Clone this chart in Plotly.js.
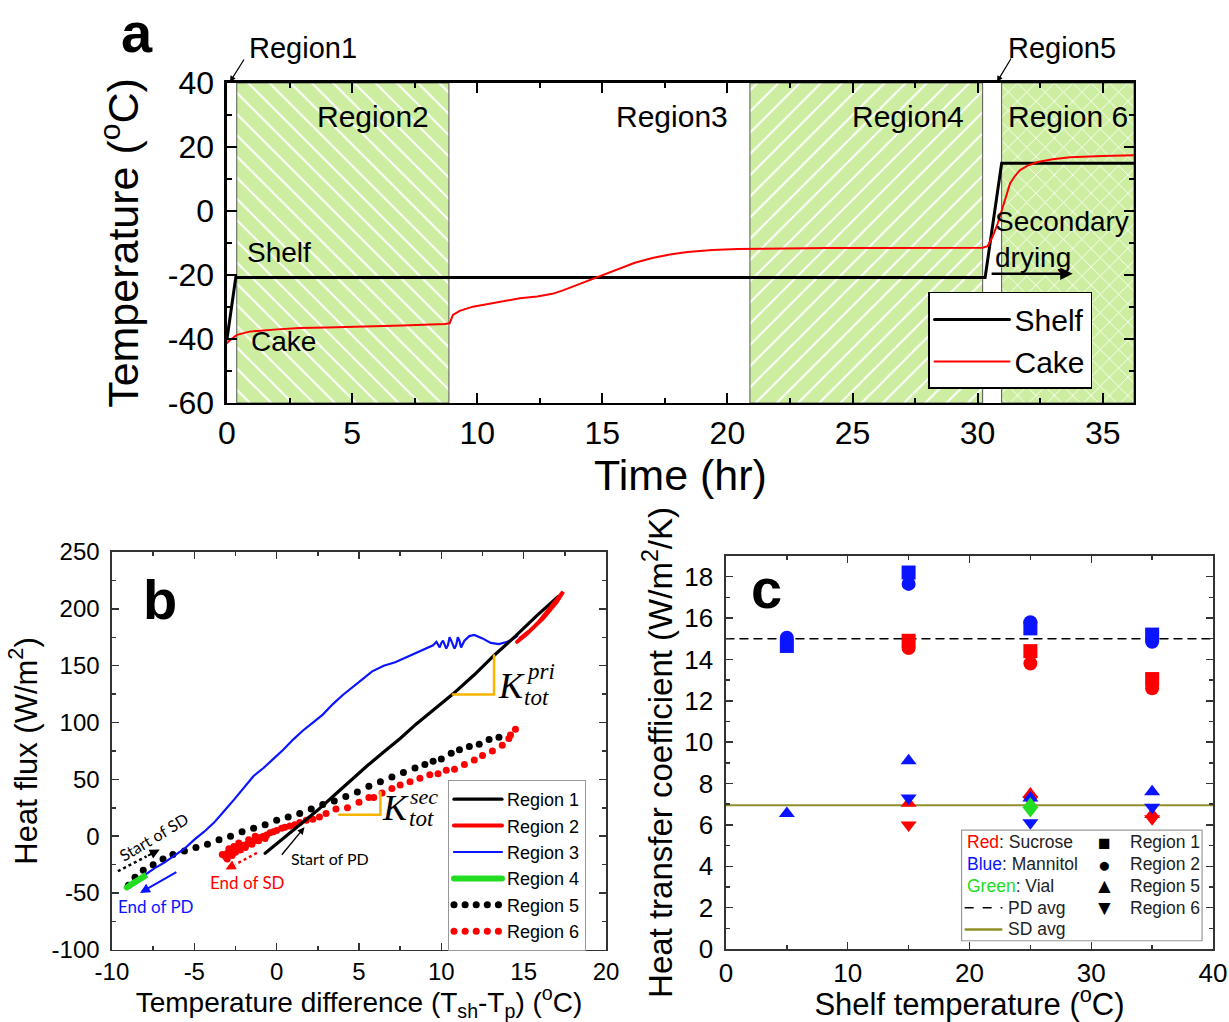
<!DOCTYPE html>
<html>
<head>
<meta charset="utf-8">
<script src="https://cdn.plot.ly/plotly-3.0.1.min.js"></script>
<style>
  html, body { margin: 0; padding: 0; background: #fff; }
  #fig { width: 1229px; height: 1022px; }
  .js-line { stroke-linecap: round; }
</style>
</head>
<body>
<div id="fig"></div>
<script>
// ---------- (a) temperature history ----------
const timeRange = [0, 36.25];
const tempRange = [-60, 40];
const tempTicks = [-60, -40, -20, 0, 20, 40];
const tempTickText = ['-60', '-40', '-20', '0', '20', '40'];
const shelfTime = [0, 0.35, 30.3, 30.96, 36.25];
const shelfTemp = [-40, -20.8, -20.8, 14.9, 14.9];
const cakeTime = [0, 0.15, 0.4, 0.9, 2, 2.9, 4, 5.5, 7, 8.7, 8.9, 9.03, 9.3, 9.83, 10.9, 11.7,
  12.4, 13.0, 13.4, 13.8, 14.3, 14.8, 15.2, 15.7, 16.3, 17.0, 17.7, 18.4, 19.4, 20.4, 22, 24,
  26, 28, 30.2, 30.4, 30.6, 30.8, 31.0, 31.15, 31.3, 31.5, 31.7, 32.0, 32.4, 33.0, 33.7, 35, 36.25];
const cakeTemp = [-41.3, -40.2, -38.7, -37.7, -37.0, -36.6, -36.4, -36.2, -35.8, -35.3, -35.1, -32.5,
  -31.2, -29.9, -28.3, -27.3, -26.7, -25.9, -24.9, -23.7, -22.2, -20.6, -19.3, -17.8, -16.2, -14.7,
  -13.6, -12.8, -12.2, -11.9, -11.7, -11.6, -11.6, -11.5, -11.5, -11.0, -8.0, -4.0, 1.2, 5.5, 8.7,
  11.0, 12.8, 14.2, 15.3, 16.2, 16.8, 17.2, 17.4];
const region2Span = [0.39, 8.87];
const region4Span = [20.9, 30.2];
const region6Span = [30.96, 36.25];

// ---------- (b) heat flux vs temperature difference ----------
const dTTicks = [-10, -5, 0, 5, 10, 15, 20];
const dTTickText = ['-10', '-5', '0', '5', '10', '15', '20'];
const fluxTicks = [-100, -50, 0, 50, 100, 150, 200, 250];
const fluxTickText = ['-100', '-50', '0', '50', '100', '150', '200', '250'];
const r1X = [-0.7, 0.5, 1.5, 2.5, 3.5, 4.5, 5.5, 6.5, 7.5, 8.5, 9.5, 10.7, 12.0, 13.2, 14.5, 15.8, 17.1];
const r1Y = [-15, -1, 11, 23, 36, 49, 62, 74, 86, 99, 111, 125, 142, 159, 176, 194, 211];
const r2X = [14.6, 15.2, 15.9, 16.6, 17.4, 17.0, 16.2, 15.4, 14.8];
const r2Y = [171, 178, 188, 200, 215, 206, 192, 181, 174];
const r3X = [14.6, 14.3, 14.0, 13.5, 13.0, 12.5, 12.0, 11.7, 11.4, 11.2, 11.1, 11.0, 10.9, 10.8,
  10.6, 10.5, 10.4, 10.3, 10.1, 10.0, 9.9, 9.7, 9.5, 9.2, 8.8, 8.3, 7.8, 7.2, 6.5, 5.8, 5.2, 4.6,
  4.0, 3.4, 2.8, 2.2, 1.6, 1.0, 0.4, -0.2, -0.8, -1.4, -2.0, -2.6, -3.2, -3.8, -4.4, -5.0, -5.6,
  -6.2, -6.8, -7.4, -7.9, -8.2];
const r3Y = [176, 173, 171, 169, 170, 174, 177, 176, 172, 166, 172, 175, 168, 165, 172, 175, 168,
  165, 172, 170, 166, 171, 168, 166, 163, 160, 157, 153, 150, 145, 138, 131, 124, 116, 107, 100,
  93, 85, 76, 68, 60, 53, 42, 32, 22, 12, 4, -3, -11, -17, -23, -28, -33, -36];
const r4X = [-9.1, -8.7, -8.3, -7.9, -8.4, -8.9];
const r4Y = [-45, -41, -37, -34, -38, -43];
const r5X = [-9.0, -8.6, -8.1, -7.5, -6.9, -6.3, -5.6, -4.9, -4.2, -3.5, -2.8, -2.1, -1.4, -0.7,
  0.0, 0.7, 1.4, 2.1, 2.8, 3.5, 4.2, 4.9, 5.6, 6.3, 7.0, 7.7, 8.4, 9.0, 9.5, 10.0, 10.6, 11.1,
  11.7, 12.3, 12.9, 13.5];
const r5Y = [-43, -36, -30, -25, -20, -16, -13, -10, -7, -3, 0, 4, 7, 10, 14, 17, 20, 24, 28, 31,
  35, 39, 44, 48, 52, 56, 60, 63, 66, 68, 73, 76, 79, 81, 85, 87];
const r6X = [14.5, 14.2, 14.1, 13.7, 13.1, 12.5, 12.0, 11.4, 10.8, 10.3, 9.8, 9.3, 8.7, 8.1, 7.5,
  7.0, 6.4, 5.9, 5.6, 5.0, 4.3, 3.6, 3.0, 2.6, 2.2, 1.8, 1.4, 1.1, 0.8, 0.5, 0.3, 0.0, -0.2, -0.4,
  -0.6, -0.8, -1.0, -1.2, -1.4, -1.6, -1.8, -2.0, -2.2, -2.4, -2.6, -2.8, -3.0, -3.1, -3.0, -2.7,
  -2.5, -2.2, -1.9, -1.5, -1.1, -0.7, -2.9, -2.6, -2.3, -3.3, -1.7, -1.3];
const r6Y = [94, 89, 86, 80, 75, 71, 67, 63, 59, 58, 55, 54, 51, 48, 45, 42, 38, 34, 34, 30, 25,
  24, 20, 17, 15, 14, 12, 10, 9, 8, 7, 5, 4, 3, 1, 0, -1, -3, -4, -5, -7, -8, -9, -11, -12, -13,
  -15, -18, -20, -17, -14, -12, -10, -7, -4, -2, -11, -9, -6, -16, -3, 0];
const priSlopeX = [10.7, 13.2, 13.2];
const priSlopeY = [124.6, 124.6, 159];
const secSlopeX = [3.8, 6.3, 6.3];
const secSlopeY = [19, 19, 38.7];
const regionNames = ['Region 1', 'Region 2', 'Region 3', 'Region 4', 'Region 5', 'Region 6'];

// ---------- (c) heat transfer coefficients ----------
const shelfSetpoints = [5, 15, 25, 35];
const sucroseR1 = [null, 14.9, 14.4, 13.05];
const sucroseR2 = [null, 14.55, 13.8, 12.6];
const sucroseR5 = [null, 7.05, 7.5, 6.5];
const sucroseR6 = [null, 6.0, 7.2, 6.3];
const mannitolR1 = [14.65, 18.2, 15.5, 15.2];
const mannitolR2 = [15.05, 17.65, 15.8, 14.85];
const mannitolR5 = [6.55, 9.1, 7.3, 7.6];
const mannitolR6 = [null, 7.3, 6.1, 6.85];
const vialR5 = [null, null, 7.0, null];
const vialR6 = [null, null, 6.7, null];
const pdAvg = 15.0;
const sdAvg = 6.95;
const shelfAxisRange = [0, 40];
const coefRange = [0, 19];

// ---------- styling ----------
const SANS = 'Liberation Sans, Arial, sans-serif';
const NOTE = 'Lato, Open Sans, sans-serif';
const SERIF = 'Liberation Serif, DejaVu Serif, serif';
const GREEN = '#cdeea0';
const RED = '#ff0000';
const BLUE = '#0a14ff';
const VIAL = '#22dd22';
const OLIVE = '#8f8f2b';
const ORANGE = '#f7b500';

function spanTrace(span, shape, size) {
  return {
    x: [span[0], span[1], span[1], span[0], span[0]],
    y: [tempRange[0], tempRange[0], tempRange[1], tempRange[1], tempRange[0]],
    xaxis: 'x', yaxis: 'y', mode: 'lines', fill: 'toself',
    fillcolor: GREEN,
    fillpattern: { shape: shape, bgcolor: GREEN, fgcolor: '#ffffff', size: size, solidity: 0.13 },
    line: { color: '#555', width: 1 }, showlegend: false, hoverinfo: 'skip'
  };
}

const traces = [
  spanTrace(region2Span, '\\', 15),
  spanTrace(region4Span, '/', 15),
  spanTrace(region6Span, 'x', 13),
  { x: shelfTime, y: shelfTemp, name: 'Shelf', mode: 'lines', line: { color: '#000', width: 3 },
    xaxis: 'x', yaxis: 'y', legend: 'legend' },
  { x: cakeTime, y: cakeTemp, name: 'Cake', mode: 'lines', line: { color: RED, width: 2 },
    xaxis: 'x', yaxis: 'y', legend: 'legend' },

  // panel b
  { x: r6X, y: r6Y, mode: 'markers', marker: { color: RED, size: 7 }, showlegend: false,
    xaxis: 'x2', yaxis: 'y2' },
  { x: r5X, y: r5Y, mode: 'markers', marker: { color: '#000', size: 7 }, showlegend: false,
    xaxis: 'x2', yaxis: 'y2' },
  { x: r3X, y: r3Y, name: regionNames[2], mode: 'lines', line: { color: BLUE, width: 2.2 },
    xaxis: 'x2', yaxis: 'y2', legend: 'legend2', legendrank: 3 },
  { x: r1X, y: r1Y, name: regionNames[0], mode: 'lines', line: { color: '#000', width: 3.2 },
    xaxis: 'x2', yaxis: 'y2', legend: 'legend2', legendrank: 1 },
  { x: r2X, y: r2Y, name: regionNames[1], mode: 'lines', line: { color: RED, width: 4 },
    xaxis: 'x2', yaxis: 'y2', legend: 'legend2', legendrank: 2 },
  { x: r4X, y: r4Y, name: regionNames[3], mode: 'lines', line: { color: VIAL, width: 6 },
    xaxis: 'x2', yaxis: 'y2', legend: 'legend2', legendrank: 4 },
  { x: [null], y: [null], name: regionNames[4], mode: 'lines',
    line: { color: '#000', width: 7, dash: '0.1px,11px' },
    xaxis: 'x2', yaxis: 'y2', legend: 'legend2', legendrank: 5 },
  { x: [null], y: [null], name: regionNames[5], mode: 'lines',
    line: { color: RED, width: 7, dash: '0.1px,11px' },
    xaxis: 'x2', yaxis: 'y2', legend: 'legend2', legendrank: 6 },
  { x: priSlopeX, y: priSlopeY, mode: 'lines', line: { color: ORANGE, width: 2.5 },
    showlegend: false, xaxis: 'x2', yaxis: 'y2' },
  { x: secSlopeX, y: secSlopeY, mode: 'lines', line: { color: ORANGE, width: 2.5 },
    showlegend: false, xaxis: 'x2', yaxis: 'y2' },

  // panel c
  { x: shelfAxisRange, y: [pdAvg, pdAvg], mode: 'lines', line: { color: '#000', width: 1.5, dash: '8px,6px' },
    showlegend: false, xaxis: 'x3', yaxis: 'y3' },
  { x: shelfAxisRange, y: [sdAvg, sdAvg], mode: 'lines', line: { color: OLIVE, width: 2.2 },
    showlegend: false, xaxis: 'x3', yaxis: 'y3' }
];

function pointSet(vals, color, symbol) {
  return { x: shelfSetpoints, y: vals, mode: 'markers', showlegend: false, xaxis: 'x3', yaxis: 'y3',
    marker: { color: color, symbol: symbol, size: 14 } };
}
traces.push(
  pointSet(sucroseR5, RED, 'triangle-up'),
  pointSet(sucroseR6, RED, 'triangle-down'),
  pointSet(sucroseR1, RED, 'square'),
  pointSet(sucroseR2, RED, 'circle'),
  pointSet(mannitolR5, BLUE, 'triangle-up'),
  pointSet(mannitolR6, BLUE, 'triangle-down'),
  pointSet(mannitolR1, BLUE, 'square'),
  pointSet(mannitolR2, BLUE, 'circle'),
  pointSet(vialR5, VIAL, 'triangle-up'),
  pointSet(vialR6, VIAL, 'triangle-down')
);

function axis(o) {
  const bold = o.bold;
  const base = {
    showline: true, mirror: 'allticks', ticks: 'inside', showgrid: false, zeroline: false,
    linecolor: bold ? '#000' : '#333', linewidth: bold ? 2.5 : 1.5,
    tickcolor: bold ? '#000' : '#333', tickwidth: bold ? 2 : 1.5, ticklen: bold ? 10 : 7,
    minor: { ticks: 'inside', ticklen: bold ? 5 : 4, tickwidth: bold ? 2 : 1.5,
      tickcolor: bold ? '#000' : '#333', dtick: o.minor, tick0: o.minor0 || 0, showgrid: false },
    tickfont: { family: SANS, size: o.tickSize, color: '#000' },
    title: { text: o.title, font: { family: SANS, size: o.titleSize, color: '#000' }, standoff: o.standoff },
    domain: o.domain, range: o.range, anchor: o.anchor, ticklabelstandoff: o.labelGap, automargin: false
  };
  if (o.tickvals) {
    base.tickmode = 'array';
    base.tickvals = o.tickvals;
    base.ticktext = o.ticktext;
  } else {
    base.dtick = o.dtick;
    base.tick0 = 0;
  }
  return base;
}

function note(text, x, y, ref, size, color, extra) {
  return Object.assign({
    text: text, x: x, y: y, xref: 'x' + ref, yref: 'y' + ref, showarrow: false,
    font: { family: SANS, size: size, color: color || '#000' }
  }, extra || {});
}
function arrow(ref, tail, tip, color, width, head) {
  return { text: '', x: tip[0], y: tip[1], ax: tail[0], ay: tail[1],
    xref: 'x' + ref, yref: 'y' + ref, axref: 'x' + ref, ayref: 'y' + ref,
    showarrow: true, arrowhead: head === undefined ? 2 : head, arrowsize: 1,
    arrowwidth: width, arrowcolor: color };
}
function paperNote(text, x, y, size) {
  return { text: text, x: x, y: y, xref: 'paper', yref: 'paper', xanchor: 'center', yanchor: 'middle',
    showarrow: false, font: { family: SANS, size: size, color: '#000' } };
}
function paperPointer(tipX, tipY, dx, dy) {
  return { text: '', x: tipX, y: tipY, xref: 'paper', yref: 'paper', ax: dx, ay: dy,
    showarrow: true, arrowhead: 2, arrowsize: 1, arrowwidth: 1.2, arrowcolor: '#000' };
}

const annotations = [
  // panel a
  paperNote('<b>a</b>', 0.1115, 0.968, 56),
  paperNote('Region1', 0.2465, 0.953, 29),
  paperNote('Region5', 0.8641, 0.953, 29),
  paperPointer(0.1871, 0.9198, 15, -24),
  paperPointer(0.8112, 0.9198, 15, -25),
  note('Region2', 5.83, 29.4, '', 30),
  note('Region3', 17.8, 29.4, '', 30),
  note('Region4', 27.2, 29.4, '', 30),
  note('Region 6', 33.6, 29.4, '', 30),
  note('Shelf', 2.08, -13.1, '', 28),
  note('Cake', 2.24, -40.9, '', 28),
  note('Secondary<br>drying', 30.6, -8.9, '', 28, '#000', { xanchor: 'left', align: 'left' }),
  arrow('', [30.5, -19.6], [33.8, -19.6], '#000', 2.5, 2),

  // panel b
  paperNote('<b>b</b>', 0.1302, 0.413, 56),
  note('<i>K</i>', 14.25, 132, '2', 36, '#000', { font: { family: SERIF, size: 36, color: '#000' } }),
  note('<i>pri</i>', 16.0, 145, '2', 23, '#000', { font: { family: SERIF, size: 23, color: '#000' } }),
  note('<i>tot</i>', 15.8, 122, '2', 23, '#000', { font: { family: SERIF, size: 23, color: '#000' } }),
  note('<i>K</i>', 7.2, 25, '2', 36, '#000', { font: { family: SERIF, size: 36, color: '#000' } }),
  note('<i>sec</i>', 8.95, 35, '2', 22, '#000', { font: { family: SERIF, size: 22, color: '#000' } }),
  note('<i>tot</i>', 8.8, 15.5, '2', 23, '#000', { font: { family: SERIF, size: 23, color: '#000' } }),
  note('Start of SD', -7.45, 0, '2', 16, '#000', { font: { family: NOTE, size: 16, color: '#000' }, textangle: -31 }),
  note('End of PD', -7.3, -61.6, '2', 17, BLUE, { font: { family: NOTE, size: 17, color: BLUE } }),
  note('End of SD', -1.8, -41, '2', 17, RED, { font: { family: NOTE, size: 17, color: RED } }),
  note('Start of PD', 3.25, -20, '2', 16, '#000', { font: { family: NOTE, size: 16, color: '#000' } }),
  arrow('2', [-7.9, -17.7], [-7.1, -11.7], '#000', 2, 2),
  arrow('2', [-6.0, -30.8], [-8.3, -49.9], BLUE, 2, 2),
  arrow('2', [-2.5, -24.7], [-3.1, -29.3], RED, 2, 2),
  arrow('2', [0.24, -17.6], [1.69, 7.9], '#000', 1.4, 2),

  // panel c
  paperNote('<b>c</b>', 0.624, 0.424, 56),
  note('<span style="color:' + RED + '">Red</span>: Sucrose', 19.6, 5.15, '3', 17.5, '#222', { xanchor: 'left' }),
  note('<span style="color:' + BLUE + '">Blue</span>: Mannitol', 19.6, 4.1, '3', 17.5, '#222', { xanchor: 'left' }),
  note('<span style="color:' + VIAL + '">Green</span>: Vial', 19.6, 3.05, '3', 17.5, '#222', { xanchor: 'left' }),
  note('PD avg', 23.0, 2.0, '3', 17.5, '#222', { xanchor: 'left' }),
  note('SD avg', 23.0, 0.95, '3', 17.5, '#222', { xanchor: 'left' }),
  note('■', 31.1, 5.15, '3', 21, '#000'),
  note('●', 31.1, 4.1, '3', 21, '#000'),
  note('▲', 31.1, 3.05, '3', 21, '#000'),
  note('▼', 31.1, 2.0, '3', 21, '#000'),
  note('Region 1', 33.0, 5.15, '3', 17.5, '#222', { xanchor: 'left' }),
  note('Region 2', 33.0, 4.1, '3', 17.5, '#222', { xanchor: 'left' }),
  note('Region 5', 33.0, 3.05, '3', 17.5, '#222', { xanchor: 'left' }),
  note('Region 6', 33.0, 2.0, '3', 17.5, '#222', { xanchor: 'left' })
];

const shapes = [
  // dotted arrow shafts in panel b
  { type: 'line', xref: 'x2', yref: 'y2', x0: -9.64, y0: -30.8, x1: -7.9, y1: -17.7,
    line: { color: '#000', width: 2.5, dash: 'dot' } },
  { type: 'line', xref: 'x2', yref: 'y2', x0: -1.2, y0: -14.7, x1: -2.5, y1: -24.7,
    line: { color: RED, width: 2.5, dash: 'dot' } },
  // key box in panel c
  { type: 'rect', xref: 'x3', yref: 'y3', x0: 19.35, x1: 39.1, y0: 0.4, y1: 5.75,
    fillcolor: '#fff', line: { color: '#999', width: 1.2 }, layer: 'above' },
  { type: 'line', xref: 'x3', yref: 'y3', x0: 19.6, x1: 22.7, y0: 2.0, y1: 2.0,
    line: { color: '#000', width: 1.5, dash: 'dash' }, layer: 'above' },
  { type: 'line', xref: 'x3', yref: 'y3', x0: 19.6, x1: 22.7, y0: 0.95, y1: 0.95,
    line: { color: OLIVE, width: 2.5 }, layer: 'above' }
];

const layout = {
  width: 1229, height: 1022,
  margin: { l: 0, r: 0, t: 0, b: 0 },
  paper_bgcolor: '#fff', plot_bgcolor: 'rgba(0,0,0,0)',
  font: { family: SANS, color: '#000' },
  xaxis: axis({ bold: true, domain: [0.1847, 0.9227], range: timeRange, dtick: 5, minor: 2.5,
    anchor: 'y', tickSize: 32, title: 'Time (hr)', titleSize: 43, standoff: 2, labelGap: 0 }),
  yaxis: axis({ bold: true, domain: [0.6057, 0.9188], range: tempRange, tickvals: tempTicks,
    ticktext: tempTickText, minor: 10, minor0: 0,
    anchor: 'x', tickSize: 32, title: 'Temperature (<sup>o</sup>C)', titleSize: 43, standoff: 16, labelGap: 4 }),
  xaxis2: axis({ domain: [0.0911, 0.4931], range: [-10, 20], tickvals: dTTicks, ticktext: dTTickText,
    minor: 2.5, anchor: 'y2', tickSize: 24,
    title: 'Temperature difference (T<sub>sh</sub>-T<sub>p</sub>) (<sup>o</sup>C)',
    titleSize: 28, standoff: 4, labelGap: 0 }),
  yaxis2: axis({ domain: [0.0705, 0.4599], range: [-100, 250], tickvals: fluxTicks, ticktext: fluxTickText,
    minor: 25, anchor: 'x2', tickSize: 24, title: 'Heat flux (W/m<sup>2</sup>)', titleSize: 31, standoff: 5, labelGap: 6 }),
  xaxis3: axis({ domain: [0.5907, 0.9870], range: shelfAxisRange, dtick: 10, minor: 5,
    anchor: 'y3', tickSize: 26, title: 'Shelf temperature (<sup>o</sup>C)', titleSize: 31, standoff: 0, labelGap: 0 }),
  yaxis3: axis({ domain: [0.0714, 0.4560], range: coefRange, dtick: 2, minor: 1,
    anchor: 'x3', tickSize: 26, title: 'Heat transfer coefficient (W/m<sup>2</sup>/K)', titleSize: 33, standoff: 2, labelGap: 6 }),
  legend: { x: 0.7551, y: 0.7143, xanchor: 'left', yanchor: 'top', bgcolor: '#fff',
    bordercolor: '#000', borderwidth: 1.5, font: { family: SANS, size: 30, color: '#000' },
    itemwidth: 75, tracegroupgap: 0 },
  legend2: { x: 0.3645, y: 0.2368, xanchor: 'left', yanchor: 'top', bgcolor: '#fff',
    bordercolor: '#999', borderwidth: 1, font: { family: SANS, size: 18, color: '#000' },
    itemwidth: 48, tracegroupgap: 0 },
  annotations: annotations,
  shapes: shapes,
  showlegend: true
};

Plotly.newPlot('fig', traces, layout, { staticPlot: true, displayModeBar: false });
</script>
</body>
</html>
